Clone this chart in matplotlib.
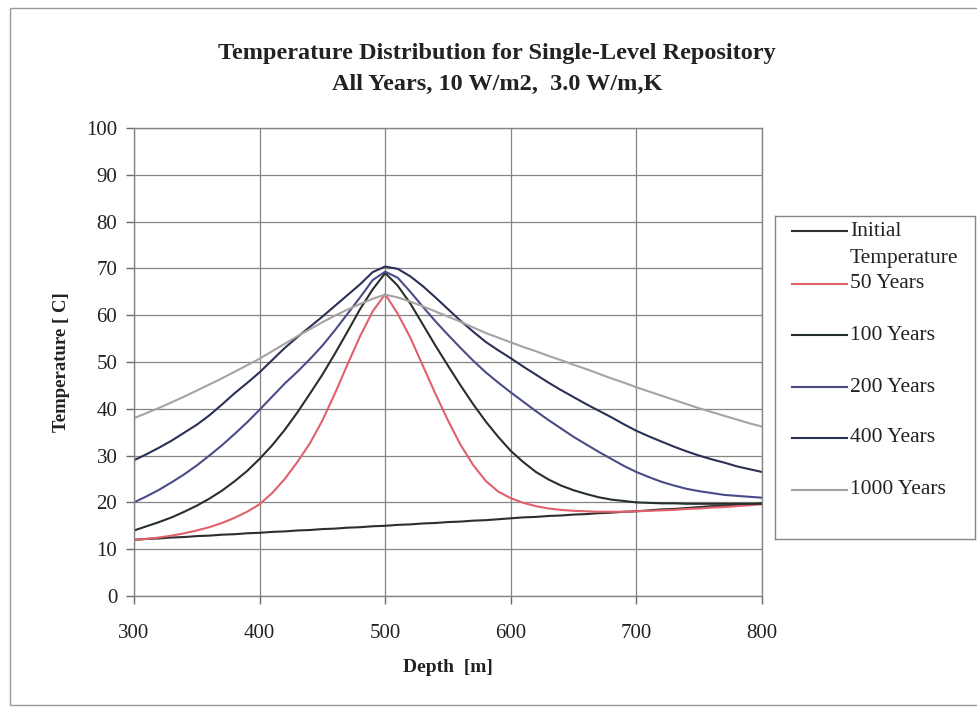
import matplotlib as mpl

mpl.use("Agg")

import matplotlib.pyplot as plt
from matplotlib.lines import Line2D
from matplotlib.patches import Rectangle

# depth [m], one reading every 10 m
depth = list(range(300, 801, 10))

temp_initial = [12.0, 12.2, 12.3, 12.5, 12.6, 12.8, 12.9, 13.1, 13.2, 13.4,
                13.5, 13.7, 13.8, 14.0, 14.1, 14.3, 14.4, 14.6, 14.7, 14.9,
                15.0, 15.2, 15.3, 15.5, 15.6, 15.8, 15.9, 16.1, 16.2, 16.4,
                16.6, 16.8, 16.9, 17.1, 17.2, 17.4, 17.5, 17.7, 17.8, 18.0,
                18.1, 18.3, 18.5, 18.6, 18.8, 19.0, 19.2, 19.3, 19.5, 19.6,
                19.8]
temp_50 = [12.0, 12.2, 12.5, 12.9, 13.4, 14.0, 14.7, 15.6, 16.7, 18.0,
           19.6, 22.0, 25.0, 28.6, 32.6, 37.5, 43.3, 49.5, 55.5, 60.8,
           64.5, 60.3, 55.2, 49.2, 43.2, 37.5, 32.3, 28.0, 24.6, 22.3,
           20.9, 19.9, 19.2, 18.7, 18.4, 18.2, 18.1, 18.0, 18.0, 18.0,
           18.1, 18.2, 18.3, 18.4, 18.6, 18.7, 18.9, 19.0, 19.2, 19.4,
           19.6]
temp_100 = [14.0, 14.9, 15.8, 16.8, 18.0, 19.3, 20.8, 22.5, 24.5, 26.7,
            29.3, 32.2, 35.5, 39.2, 43.2, 47.3, 51.8, 56.5, 61.3, 65.5,
            69.0, 66.3, 62.5, 58.0, 53.5, 49.2, 45.0, 41.0, 37.3, 34.0,
            31.0, 28.6, 26.5, 24.9, 23.6, 22.6, 21.8, 21.1, 20.6, 20.3,
            20.0, 19.9, 19.8, 19.8, 19.7, 19.7, 19.7, 19.7, 19.7, 19.7,
            19.7]
temp_200 = [20.0, 21.3, 22.7, 24.3, 26.0, 27.9, 30.0, 32.2, 34.6, 37.1,
            39.8, 42.6, 45.4, 47.9, 50.6, 53.5, 56.8, 60.3, 63.8, 67.5,
            69.3, 68.0, 65.0, 61.8, 58.7, 55.8, 53.0, 50.3, 47.8, 45.6,
            43.5, 41.5, 39.5, 37.6, 35.8, 34.0, 32.4, 30.8, 29.3, 27.8,
            26.5, 25.4, 24.4, 23.6, 22.9, 22.4, 22.0, 21.6, 21.4, 21.2,
            21.0]
temp_400 = [29.0, 30.3, 31.7, 33.2, 34.9, 36.6, 38.6, 40.9, 43.3, 45.5,
            47.8, 50.4, 53.0, 55.3, 57.5, 59.7, 62.0, 64.3, 66.6, 69.2,
            70.4, 69.9, 68.3, 66.2, 63.8, 61.3, 58.8, 56.5, 54.3, 52.5,
            50.8, 49.0, 47.3, 45.6, 44.0, 42.5, 41.0, 39.6, 38.2, 36.7,
            35.3, 34.1, 33.0, 31.9, 30.9, 30.0, 29.2, 28.5, 27.7, 27.1,
            26.5]
temp_1000 = [38.0, 39.1, 40.2, 41.4, 42.6, 43.9, 45.2, 46.5, 47.9, 49.3,
             50.7, 52.3, 53.9, 55.5, 57.0, 58.5, 59.9, 61.2, 62.4, 63.5,
             64.4, 63.8, 62.9, 61.9, 60.8, 59.7, 58.6, 57.4, 56.2, 55.2,
             54.2, 53.2, 52.3, 51.3, 50.4, 49.4, 48.5, 47.5, 46.5, 45.6,
             44.6, 43.7, 42.8, 41.9, 41.0, 40.1, 39.3, 38.5, 37.7, 36.9,
             36.2]

series = [
    ("Initial\nTemperature", temp_initial, "#2e2e2e"),
    ("50 Years", temp_50, "#e0606e"),
    ("100 Years", temp_100, "#26302b"),
    ("200 Years", temp_200, "#4a4c88"),
    ("400 Years", temp_400, "#2b3156"),
    ("1000 Years", temp_1000, "#a9a2a2"),
]

serif = ["Liberation Serif", "DejaVu Serif"]
mpl.rcParams.update({"font.family": serif, "axes.unicode_minus": False})

W, H = 978, 716
fig = plt.figure(figsize=(W / 100, H / 100), dpi=100)
fig.patch.set_facecolor("white")

# outer chart-area border of the scanned page
fig.add_artist(Rectangle((10 / W, 1 - 705 / H), 968 / W, 697 / H,
                         transform=fig.transFigure, fill=False,
                         edgecolor="#9a9a9a", linewidth=1.0))

ax = fig.add_axes([134 / W, 1 - 596 / H, 628 / W, 468 / H])
for name, vals, col in series:
    ax.plot(depth, vals, color=col, linewidth=1.5, label=name)

ax.set_xlim(300, 800)
ax.set_ylim(0, 100)
ax.set_xticks(range(300, 801, 100))
ax.set_yticks(range(0, 101, 10))
ax.grid(True, color="#858585", linewidth=0.9)
ax.set_axisbelow(True)
for sp in ax.spines.values():
    sp.set_color("#858585")
    sp.set_linewidth(1.0)
ax.tick_params(direction="out", length=6, width=1.0, color="#6a6a6a",
               labelsize=15, labelcolor="#222222")
ax.tick_params(axis="x", pad=14)
ax.tick_params(axis="y", pad=6)

ax.set_xlabel("Depth  [m]", fontsize=14, fontweight="bold", color="#222222", labelpad=12)
ax.set_ylabel("Temperature [ C]", fontsize=13.5, fontweight="bold", color="#222222", labelpad=12)

fig.text(497 / W, 1 - 53 / H, "Temperature Distribution for Single-Level Repository",
         ha="center", va="center", fontsize=17.5, fontweight="bold", color="#222222")
fig.text(497 / W, 1 - 84 / H, "All Years, 10 W/m2,  3.0 W/m,K",
         ha="center", va="center", fontsize=17.5, fontweight="bold", color="#222222")

# legend box drawn by hand so the handle sits on the first line of the two-line label
lx0, ly_top, lw, lh = 775, 216, 200, 323
lax = fig.add_axes([lx0 / W, 1 - (ly_top + lh) / H, lw / W, lh / H])
lax.set_xlim(0, lw)
lax.set_ylim(lh, 0)
lax.set_xticks([])
lax.set_yticks([])
for sp in lax.spines.values():
    sp.set_color("#858585")
    sp.set_linewidth(1.0)

row_y = [15, 68, 119, 171, 222, 274]
line_step = 27
for (name, _, col), ry in zip(series, row_y):
    lax.add_line(Line2D([17, 72], [ry, ry], color=col, linewidth=1.5))
    for k, part in enumerate(name.split("\n")):
        lax.text(75, ry + k * line_step, part, ha="left", va="center",
                 fontsize=15.5, color="#222222")

fig.savefig("out.png", dpi=100, facecolor="white")
